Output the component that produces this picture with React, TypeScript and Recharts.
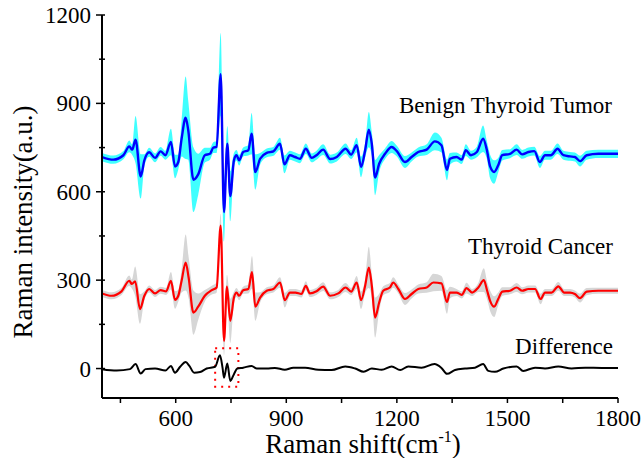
import {
  Area,
  ComposedChart,
  Line,
  ReferenceArea,
  XAxis,
  YAxis,
} from "recharts";

// [Raman shift, intensity, band half-width]
const benignTumor: [number, number, number][] = [
  [400, 718, 14], [431, 709, 14], [458, 724, 14], [474, 754, 20], [482, 743, 18],
  [491, 777, 80], [505, 652, 75], [515, 707, 20], [528, 734, 15], [544, 715, 15],
  [559, 737, 15], [572, 724, 15], [587, 769, 45], [598, 686, 40], [607, 701, 25],
  [616, 780, 60], [627, 851, 140], [634, 809, 100], [648, 641, 110], [661, 659, 70],
  [679, 724, 25], [693, 729, 20], [702, 750, 18], [711, 752, 20], [722, 999, 140],
  [731, 531, 100], [740, 763, 60], [748, 585, 85], [758, 707, 25], [765, 724, 18],
  [772, 707, 18], [783, 735, 15], [797, 741, 18], [806, 797, 70], [816, 667, 60],
  [829, 712, 20], [847, 732, 15], [865, 737, 15], [883, 763, 20], [895, 693, 30],
  [910, 724, 15], [924, 718, 15], [937, 712, 15], [953, 746, 18], [969, 715, 15],
  [982, 724, 15], [1000, 743, 18], [1019, 711, 15], [1037, 718, 15], [1061, 746, 18],
  [1076, 726, 15], [1091, 758, 25], [1103, 684, 35], [1114, 741, 25], [1124, 811, 60],
  [1132, 763, 40], [1141, 648, 60], [1152, 695, 30], [1168, 729, 18], [1186, 752, 20],
  [1200, 738, 18], [1222, 701, 20], [1240, 718, 15], [1258, 735, 15], [1281, 743, 18],
  [1303, 771, 30], [1321, 758, 25], [1336, 674, 35], [1344, 712, 20], [1362, 718, 15],
  [1376, 709, 15], [1387, 741, 20], [1401, 724, 15], [1417, 735, 18], [1434, 780, 45],
  [1444, 743, 30], [1453, 686, 40], [1464, 667, 40], [1475, 690, 25], [1486, 724, 18],
  [1507, 729, 15], [1525, 743, 18], [1540, 727, 15], [1557, 735, 15], [1573, 738, 15],
  [1588, 701, 20], [1602, 724, 15], [1618, 724, 15], [1636, 746, 18], [1652, 724, 15],
  [1670, 720, 15], [1683, 718, 15], [1697, 704, 18], [1715, 724, 15], [1747, 729, 14],
  [1800, 729, 14],
];

const thyroidCancer: [number, number, number][] = [
  [400, 255, 12], [426, 247, 12], [453, 262, 12], [474, 298, 18], [481, 287, 15],
  [490, 296, 50], [503, 202, 50], [515, 247, 15], [528, 270, 12], [544, 255, 12],
  [559, 266, 12], [574, 262, 12], [587, 298, 30], [598, 233, 30], [607, 247, 20],
  [616, 298, 40], [627, 360, 95], [635, 309, 70], [648, 190, 75], [661, 210, 45],
  [679, 247, 20], [698, 266, 15], [711, 275, 18], [722, 485, 40], [731, 94, 50],
  [739, 278, 40], [748, 162, 75], [758, 241, 20], [765, 258, 15], [772, 247, 15],
  [783, 266, 12], [797, 270, 15], [807, 327, 55], [816, 210, 48], [829, 241, 18],
  [847, 264, 12], [865, 270, 12], [883, 292, 18], [896, 232, 25], [910, 258, 12],
  [925, 258, 12], [941, 253, 12], [953, 281, 15], [964, 255, 12], [982, 262, 12],
  [1000, 278, 15], [1019, 247, 12], [1041, 255, 12], [1061, 275, 15], [1076, 261, 12],
  [1091, 292, 22], [1103, 232, 30], [1114, 281, 25], [1124, 343, 70], [1132, 281, 40],
  [1141, 173, 68], [1152, 224, 30], [1163, 264, 15], [1181, 275, 15], [1190, 292, 18],
  [1204, 270, 15], [1222, 236, 20], [1240, 253, 15], [1258, 270, 15], [1281, 275, 18],
  [1299, 292, 30], [1321, 289, 25], [1336, 226, 40], [1344, 258, 20], [1362, 258, 12],
  [1376, 250, 12], [1389, 273, 18], [1404, 258, 12], [1421, 275, 15], [1436, 300, 40],
  [1445, 264, 30], [1453, 230, 35], [1464, 210, 35], [1475, 236, 22], [1486, 261, 15],
  [1507, 264, 12], [1525, 275, 15], [1540, 264, 12], [1557, 270, 12], [1575, 270, 12],
  [1590, 236, 18], [1602, 258, 12], [1620, 258, 12], [1638, 279, 15], [1654, 258, 12],
  [1670, 258, 12], [1683, 253, 12], [1697, 239, 15], [1715, 261, 12], [1747, 264, 10],
  [1800, 264, 10],
];

const difference: [number, number][] = [
  [400, -2], [440, -7], [476, -2], [491, 15], [505, -17], [518, -2], [544, 0],
  [572, -7], [587, 9], [598, -14], [612, 6], [627, 22], [637, 9], [650, -14],
  [666, -12], [684, 0], [707, 6], [720, 45], [727, 3], [731, -31], [740, 17],
  [748, -42], [758, -19], [767, 0], [783, 3], [806, 9], [820, 0], [847, 0],
  [869, 2], [896, -4], [919, 3], [951, 3], [987, -4], [1023, -5], [1060, 7],
  [1087, 0], [1110, -11], [1132, 0], [1159, -4], [1186, 7], [1209, -5], [1231, 7],
  [1267, 3], [1302, 15], [1321, 2], [1336, -18], [1358, -5], [1385, 0], [1412, 3],
  [1434, 15], [1448, -8], [1466, -11], [1489, 0], [1525, 7], [1543, -8], [1575, 3],
  [1602, 0], [1638, 7], [1674, 0], [1711, 3], [1756, 2], [1800, 2],
];

const xTicks = [450, 600, 750, 900, 1050, 1200, 1350, 1500, 1650, 1800];
const xLabelled = [600, 900, 1200, 1500, 1800];
const yTicks = [0, 150, 300, 450, 600, 750, 900, 1050, 1200];
const yLabelled = [0, 300, 600, 900, 1200];

const toRows = (s: [number, number, number][]) =>
  s.map(([x, y, sd]) => ({ x, y, band: [y - sd, y + sd] }));

const benignRows = toRows(benignTumor);
const cancerRows = toRows(thyroidCancer);
const diffRows = difference.map(([x, y]) => ({ x, y }));

const FONT = '"Liberation Serif", "DejaVu Serif", serif';
const serif = { fontFamily: FONT };
const AXIS_X = 102;
const AXIS_Y = 398;

const XTick = (props: any) => {
  const { x, payload } = props;
  if (!xLabelled.includes(payload.value)) return <g />;
  return (
    <text x={x} y={AXIS_Y + 28} textAnchor="middle" fontSize={23} style={serif} fill="#000">
      {payload.value}
    </text>
  );
};

const YTick = (props: any) => {
  const { y, payload } = props;
  const major = yLabelled.includes(payload.value);
  return (
    <g>
      <line x1={major ? AXIS_X - 6 : AXIS_X - 3} x2={AXIS_X + 3} y1={y} y2={y} stroke="#000" strokeWidth={1.5} />
      {major && (
        <text x={AXIS_X - 11} y={y + 8} textAnchor="end" fontSize={23} style={serif} fill="#000">
          {payload.value}
        </text>
      )}
    </g>
  );
};

export default function App() {
  return (
    <div style={{ position: "absolute", left: 0, top: 0, width: 643, height: 458, background: "#fff" }}>
      <ComposedChart
        width={643}
        height={458}
        margin={{ top: 15, right: 25, left: 0, bottom: 0 }}
      >
        <XAxis
          dataKey="x"
          type="number"
          domain={[400, 1800]}
          ticks={xTicks}
          tick={<XTick />}
          tickSize={5}
          height={60}
          interval={0}
          allowDataOverflow
          axisLine={{ stroke: "#000", strokeWidth: 2 }}
          tickLine={{ stroke: "#000", strokeWidth: 1.5 }}
        />
        <XAxis
          xAxisId="top"
          orientation="top"
          dataKey="x"
          type="number"
          domain={[400, 1800]}
          height={0}
          tick={false}
          tickLine={false}
          axisLine={{ stroke: "#000", strokeWidth: 2 }}
        />
        <YAxis
          type="number"
          domain={[-100, 1200]}
          ticks={yTicks}
          tick={<YTick />}
          tickLine={false}
          width={102}
          interval={0}
          allowDataOverflow
          axisLine={{ stroke: "#000", strokeWidth: 2 }}
        />
        <YAxis
          yAxisId="right"
          orientation="right"
          type="number"
          domain={[-100, 1200]}
          width={0}
          tick={false}
          tickLine={false}
          axisLine={{ stroke: "#000", strokeWidth: 2 }}
        />
        <Area
          data={benignRows}
          dataKey="band"
          type="monotone"
          stroke="none"
          fill="#40ffff"
          fillOpacity={1}
          isAnimationActive={false}
        />
        <Area
          data={cancerRows}
          dataKey="band"
          type="monotone"
          stroke="none"
          fill="#d6d6d6"
          fillOpacity={1}
          isAnimationActive={false}
        />
        <Line
          data={benignRows}
          dataKey="y"
          stroke="#0000ff"
          strokeWidth={2.4}
          dot={false}
          type="monotone"
          isAnimationActive={false}
        />
        <Line
          data={cancerRows}
          dataKey="y"
          stroke="#ff0000"
          strokeWidth={2.2}
          dot={false}
          type="monotone"
          isAnimationActive={false}
        />
        <Line
          data={diffRows}
          dataKey="y"
          stroke="#000000"
          strokeWidth={2}
          dot={false}
          type="monotone"
          isAnimationActive={false}
        />
        <ReferenceArea
          x1={707}
          x2={770}
          y1={-62}
          y2={69}
          fill="none"
          stroke="#ff0000"
          strokeWidth={2}
          strokeDasharray="2 5"
          ifOverflow="visible"
        />
      </ComposedChart>
      <svg
        width={643}
        height={458}
        style={{ position: "absolute", left: 0, top: 0, pointerEvents: "none", ...serif }}
      >
        <text x={612} y={113} textAnchor="end" fontSize={23} style={serif}>Benign Thyroid Tumor</text>
        <text x={613} y={254} textAnchor="end" fontSize={23} style={serif}>Thyroid Cancer</text>
        <text x={613} y={354} textAnchor="end" fontSize={23} style={serif}>Difference</text>
        <text x={363} y={453} textAnchor="middle" fontSize={27} style={serif}>
          Raman shift(cm<tspan dy={-11} fontSize={16}>-1</tspan><tspan dy={11}>)</tspan>
        </text>
        <text
          x={32}
          y={222}
          textAnchor="middle"
          fontSize={27}
          style={serif}
          transform="rotate(-90 32 222)"
        >
          Raman intensity(a.u.)
        </text>
      </svg>
    </div>
  );
}
